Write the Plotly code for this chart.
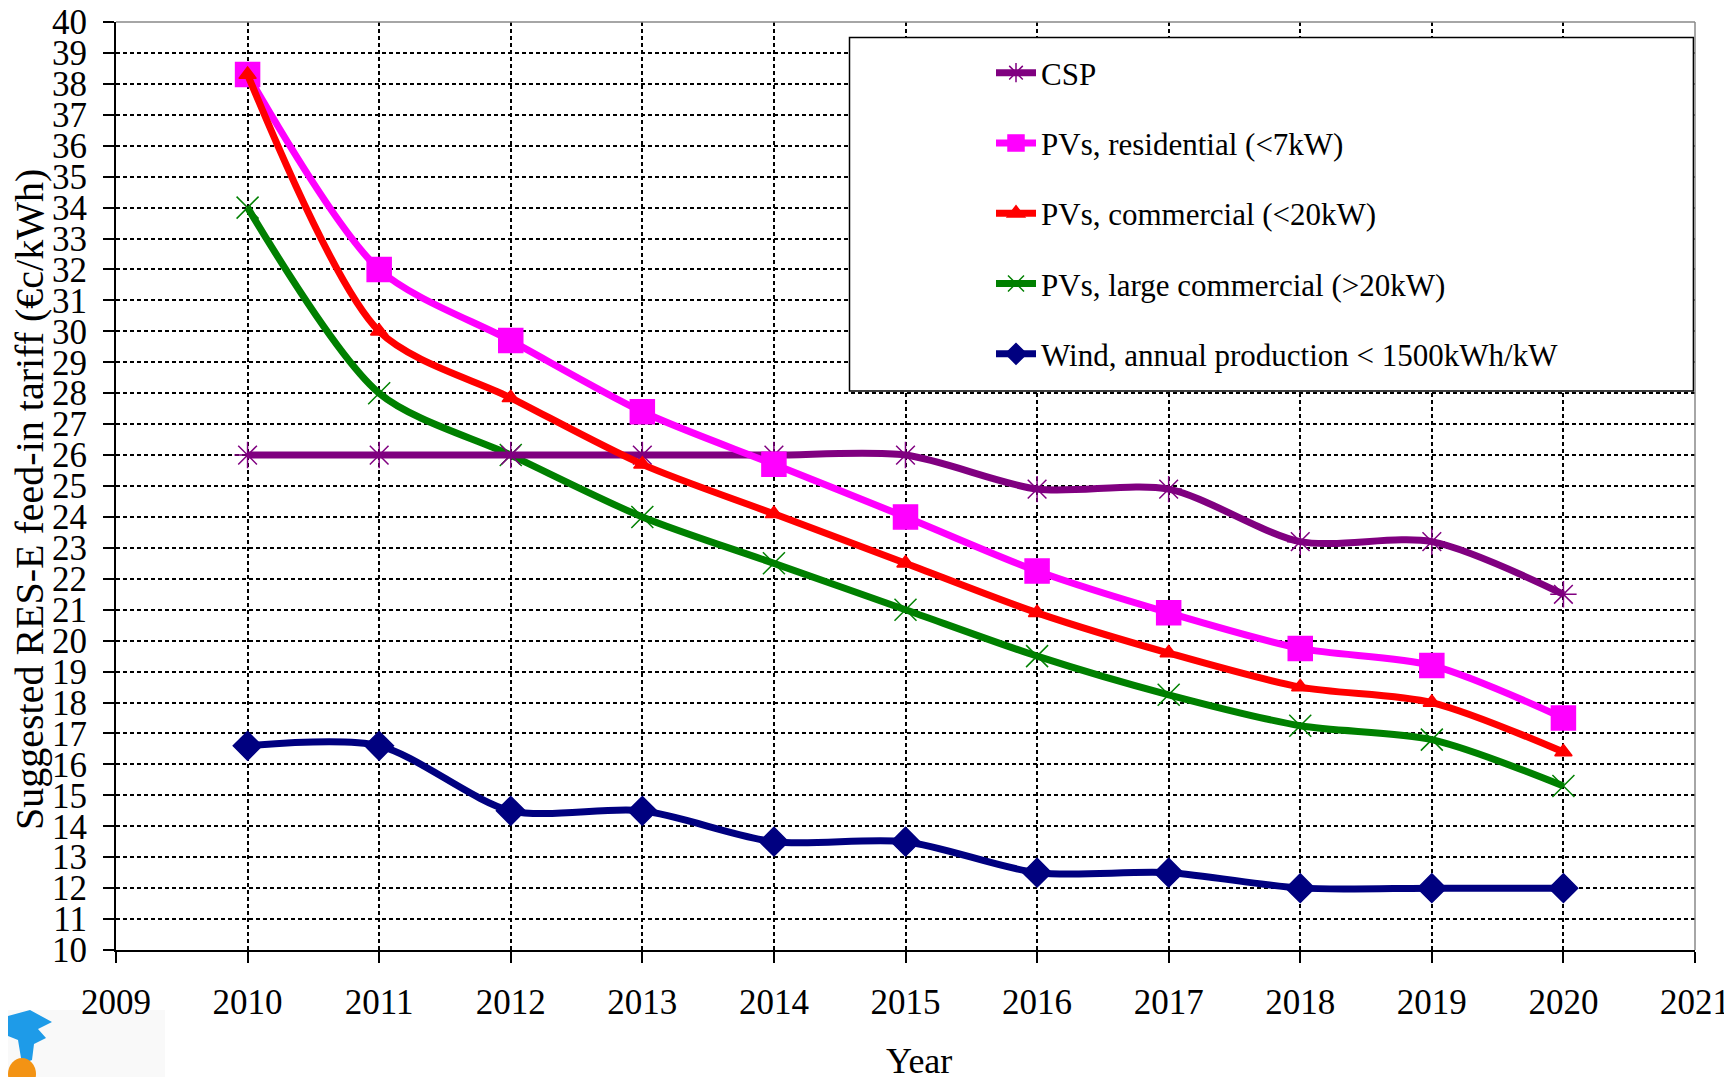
import plotly.graph_objects as go

years = [2010, 2011, 2012, 2013, 2014, 2015, 2016, 2017, 2018, 2019, 2020]
csp = [26, 26, 26, 26, 26, 26, 24.9, 24.9, 23.2, 23.2, 21.5]
pv_res = [38.3, 32, 29.7, 27.4, 25.7, 24, 22.25, 20.9, 19.75, 19.2, 17.5]
pv_com = [38.3, 30, 27.85, 25.7, 24.1, 22.5, 20.9, 19.6, 18.5, 18.0, 16.4]
pv_large = [34, 28, 26, 24, 22.5, 21, 19.5, 18.25, 17.25, 16.8, 15.3]
wind = [16.6, 16.6, 14.5, 14.5, 13.5, 13.5, 12.5, 12.5, 12, 12, 12]

names = ["CSP", "PVs, residential (<7kW)", "PVs, commercial (<20kW)",
         "PVs, large commercial (>20kW)", "Wind, annual production < 1500kWh/kW"]
colors = ["#800080", "#FF00FF", "#FF0000", "#008000", "#000080"]
symbols = ["asterisk-open", "square", "triangle-up", "x-thin-open", "diamond"]
sizes = [22, 24, 15, 22, 22]
series = [csp, pv_res, pv_com, pv_large, wind]

FONT = "Liberation Serif, Times New Roman, serif"
OFF = 8  # page body margin offset
W, H = 1724, 1069
L, R, T, B = 108, 37, 14, 127
PW, PH = W - L - R, H - T - B


def px(x):  # page pixel x -> paper
    return (x - OFF - L) / PW


def py(y):  # page pixel y -> paper
    return (H - B - (y - OFF)) / PH


fig = go.Figure()
for i in [4, 3, 0, 1, 2]:
    fig.add_trace(go.Scatter(
        x=years, y=series[i], name=names[i], mode="lines+markers",
        line=dict(color=colors[i], width=7, shape="spline", smoothing=0.8),
        marker=dict(symbol=symbols[i], size=sizes[i], color=colors[i],
                    line=dict(color=colors[i], width=1.5)),
        legendgroup=str(i), legendrank=i + 1,
    ))

shapes = [
    dict(type="rect", xref="paper", yref="paper",
         x0=px(849.5), x1=0.999, y0=py(391), y1=py(37.6),
         line=dict(color="black", width=1.5), fillcolor="white", layer="above"),
    dict(type="line", xref="paper", yref="paper", x0=0, x1=1, y0=1, y1=1,
         line=dict(color="#888888", width=1.5)),
    dict(type="line", xref="paper", yref="paper", x0=1, x1=1, y0=0, y1=1,
         line=dict(color="#888888", width=1.5)),
    # logo fragment (bottom-left)
    dict(type="rect", xref="paper", yref="paper",
         x0=px(8), x1=px(165), y0=py(1077), y1=py(1010),
         line=dict(width=0), fillcolor="#f9f9f9", layer="below"),
]
logo_pts = [(8, 1016), (30, 1010), (52, 1022), (38, 1029), (46, 1038), (34, 1044),
            (32, 1060), (22, 1064), (18, 1040), (8, 1036)]
path = "M " + " L ".join(f"{px(x)},{py(y)}" for x, y in logo_pts) + " Z"
shapes.append(dict(type="path", xref="paper", yref="paper", path=path,
                   fillcolor="#1e9be8", line=dict(width=0)))
shapes.append(dict(type="circle", xref="paper", yref="paper",
                   x0=px(8), x1=px(36), y0=py(1090), y1=py(1058),
                   fillcolor="#f39314", line=dict(width=0)))

fig.update_layout(
    width=W, height=H,
    margin=dict(l=L, r=R, t=T, b=B, autoexpand=False),
    paper_bgcolor="white", plot_bgcolor="white",
    font=dict(family=FONT, color="black"),
    showlegend=True,
    legend=dict(x=px(991), y=py(46), xanchor="left", yanchor="top",
                font=dict(family=FONT, size=31, color="black"),
                bgcolor="rgba(0,0,0,0)", borderwidth=0,
                traceorder="grouped", tracegroupgap=27,
                itemwidth=40),
    shapes=shapes,
    annotations=[
        dict(text="Suggested RES-E feed-in tariff (€c/kWh)", xref="paper", yref="paper",
             x=px(29), y=py(500), textangle=-90, showarrow=False,
             xanchor="center", yanchor="middle",
             font=dict(family=FONT, size=40, color="black")),
        dict(text="Year", xref="paper", yref="paper",
             x=px(919), y=py(1061), showarrow=False,
             xanchor="center", yanchor="middle",
             font=dict(family=FONT, size=36, color="black")),
    ],
)

fig.update_xaxes(
    range=[2009, 2021], dtick=1, tick0=2009, automargin=False,
    ticklabeloverflow="allow",
    showgrid=True, gridcolor="black", griddash="4px,3px", gridwidth=1.5,
    showline=True, linecolor="black", linewidth=2, mirror=False,
    ticks="outside", ticklen=11, tickcolor="black", tickwidth=1.5,
    ticklabelstandoff=9,
    tickfont=dict(family=FONT, size=35, color="black"),
    zeroline=False,
)
fig.update_yaxes(
    range=[10, 40], dtick=1, tick0=10, automargin=False,
    ticklabeloverflow="allow",
    showgrid=True, gridcolor="black", griddash="4px,3px", gridwidth=1.5,
    showline=True, linecolor="black", linewidth=2,
    ticks="outside", ticklen=11, tickcolor="black", tickwidth=1.5,
    ticklabelstandoff=9,
    tickfont=dict(family=FONT, size=35, color="black"),
    zeroline=False,
)

fig.write_html("out.html")
